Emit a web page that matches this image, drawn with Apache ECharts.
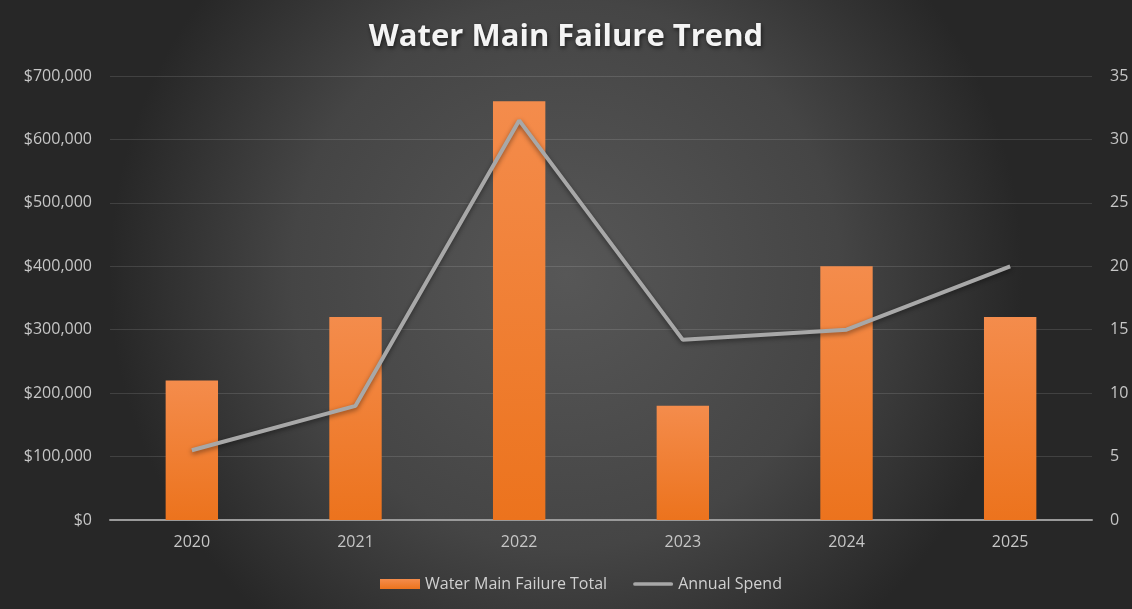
<!DOCTYPE html>
<html>
<head>
<meta charset="utf-8">
<style>
  html, body { margin: 0; padding: 0; background: #2b2b2b; }
  #chart { width: 1132px; height: 609px; }
</style>
<script src="https://cdn.jsdelivr.net/npm/echarts@6/dist/echarts.min.js"></script>
</head>
<body>
<div id="chart"></div>
<script>
// Years on the category axis
const years = ['2020', '2021', '2022', '2023', '2024', '2025'];
// Bars: water main failure total (left axis, dollars)
const failureTotal = [220000, 320000, 660000, 180000, 400000, 320000];
// Line: annual spend (right axis)
const annualSpend = [5.5, 9, 31.5, 14.2, 15, 20];

const chart = echarts.init(document.getElementById('chart'));

const labelColor = '#c6c6c6';
const gridColor = 'rgba(255,255,255,0.12)';
const baseFont = '"Open Sans", "Liberation Sans", sans-serif';

chart.setOption({
  backgroundColor: {
    type: 'radial', x: 0.5, y: 0.45, r: 0.75,
    colorStops: [
      { offset: 0, color: '#575757' },
      { offset: 0.6, color: '#454545' },
      { offset: 1, color: '#272727' }
    ]
  },
  title: {
    text: 'Water Main Failure Trend',
    left: 'center',
    top: 17,
    textStyle: {
      color: '#f4f4f4',
      fontSize: 31,
      fontWeight: 'bold',
      fontFamily: baseFont,
      textShadowColor: 'rgba(0,0,0,0.6)',
      textShadowBlur: 4,
      textShadowOffsetX: 1,
      textShadowOffsetY: 2
    }
  },
  legend: {
    top: 571,
    left: 375,
    itemGap: 26,
    itemWidth: 40,
    itemHeight: 10,
    textStyle: { color: '#d0d0d0', fontSize: 16, fontFamily: baseFont },
    data: [
      { name: 'Water Main Failure Total', icon: 'rect' },
      { name: 'Annual Spend', icon: 'path://M2,0 L41,0 A2,2 0 0 1 41,4 L2,4 A2,2 0 0 1 2,0 Z' }
    ]
  },
  grid: { left: 110, right: 40, top: 76, bottom: 89 },
  xAxis: {
    type: 'category',
    data: years,
    axisLine: { lineStyle: { color: '#9a9a9a', width: 2 } },
    axisTick: { show: false },
    axisLabel: { color: labelColor, fontSize: 16, margin: 14, fontFamily: baseFont }
  },
  yAxis: [
    {
      type: 'value',
      min: 0, max: 700000, interval: 100000,
      axisLine: { show: false },
      axisTick: { show: false },
      splitLine: { lineStyle: { color: gridColor, width: 1 } },
      axisLabel: {
        color: labelColor, fontSize: 16, margin: 18, fontFamily: baseFont,
        formatter: v => '$' + v.toLocaleString('en-US')
      }
    },
    {
      type: 'value',
      min: 0, max: 35, interval: 5,
      axisLine: { show: false },
      axisTick: { show: false },
      splitLine: { show: false },
      axisLabel: { color: labelColor, fontSize: 16, margin: 18, fontFamily: baseFont }
    }
  ],
  series: [
    {
      name: 'Water Main Failure Total',
      type: 'bar',
      yAxisIndex: 0,
      barWidth: '32%',
      data: failureTotal,
      itemStyle: {
        color: {
          type: 'linear', x: 0, y: 0, x2: 0, y2: 1,
          colorStops: [
            { offset: 0, color: '#f48c4c' },
            { offset: 1, color: '#ec731d' }
          ]
        },
        shadowColor: 'rgba(0,0,0,0.45)',
        shadowBlur: 6,
        shadowOffsetX: 1,
        shadowOffsetY: 1
      }
    },
    {
      name: 'Annual Spend',
      type: 'line',
      yAxisIndex: 1,
      data: annualSpend,
      symbol: 'none',
      lineStyle: {
        color: '#a8a8a8',
        width: 4,
        shadowColor: 'rgba(0,0,0,0.45)',
        shadowBlur: 5,
        shadowOffsetY: 2
      },
      itemStyle: { color: '#a8a8a8' }
    }
  ]
});
</script>
</body>
</html>
